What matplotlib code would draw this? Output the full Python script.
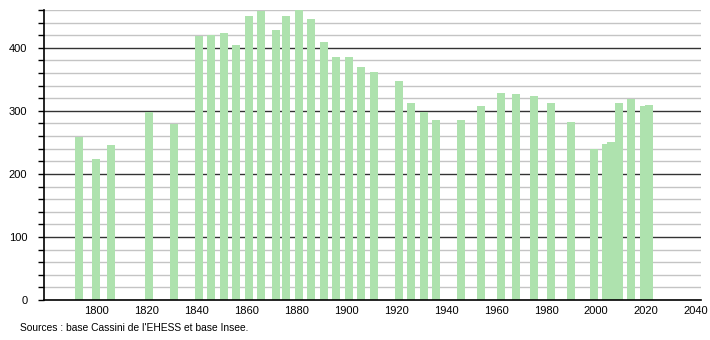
import matplotlib.pyplot as plt
from matplotlib.ticker import MultipleLocator

plt.rcParams["font.family"] = ["Liberation Sans", "DejaVu Sans"]

years = [1793, 1800, 1806, 1821, 1831, 1841, 1846, 1851, 1856, 1861,
         1866, 1872, 1876, 1881, 1886, 1891, 1896, 1901, 1906, 1911,
         1921, 1926, 1931, 1936, 1946, 1954, 1962, 1968, 1975, 1982,
         1990, 1999, 2004, 2006, 2009, 2014, 2019, 2021]
population = [259, 224, 246, 299, 279, 419, 420, 423, 404, 450,
              458, 428, 450, 462, 445, 409, 386, 385, 369, 362,
              347, 313, 299, 286, 286, 308, 329, 326, 323, 313,
              283, 240, 248, 251, 312, 319, 308, 310]
x_ticks = [1800, 1820, 1840, 1860, 1880, 1900, 1920, 1940, 1960, 1980, 2000, 2020, 2040]
y_ticks = [0, 100, 200, 300, 400]
source = "Sources : base Cassini de l'EHESS et base Insee."

fig = plt.figure(figsize=(7.1, 3.4), dpi=100)
ax = fig.add_axes([44 / 710, 40 / 340, 657 / 710, 290 / 340])

ax.bar(years, population, width=3.2, color="#aee2ae", zorder=3)

ax.set_xlim(1779.2, 2041.9)
ax.set_ylim(0, 460)
ax.set_xticks(x_ticks)
ax.set_yticks(y_ticks)
ax.yaxis.set_minor_locator(MultipleLocator(20))

# light minor grid, dark major grid
for v in range(20, 461, 20):
    if v % 100 == 0:
        ax.axhline(v, color="#333333", lw=1.0, zorder=1)
    else:
        ax.axhline(v, color="#c4c4c4", lw=1.0, zorder=1)

for side in ["top", "right"]:
    ax.spines[side].set_visible(False)
ax.spines["left"].set_linewidth(1.2)
ax.spines["bottom"].set_linewidth(1.2)
ax.spines["left"].set_zorder(4)
ax.spines["bottom"].set_zorder(4)

ax.tick_params(axis="y", which="both", length=4, width=1, pad=8, labelsize=8)
ax.tick_params(axis="x", length=0, pad=4, labelsize=8)

fig.text(20 / 710, 1 - 328 / 340, source, fontsize=7.4, va="center", ha="left")

fig.savefig("out.png", dpi=100)
